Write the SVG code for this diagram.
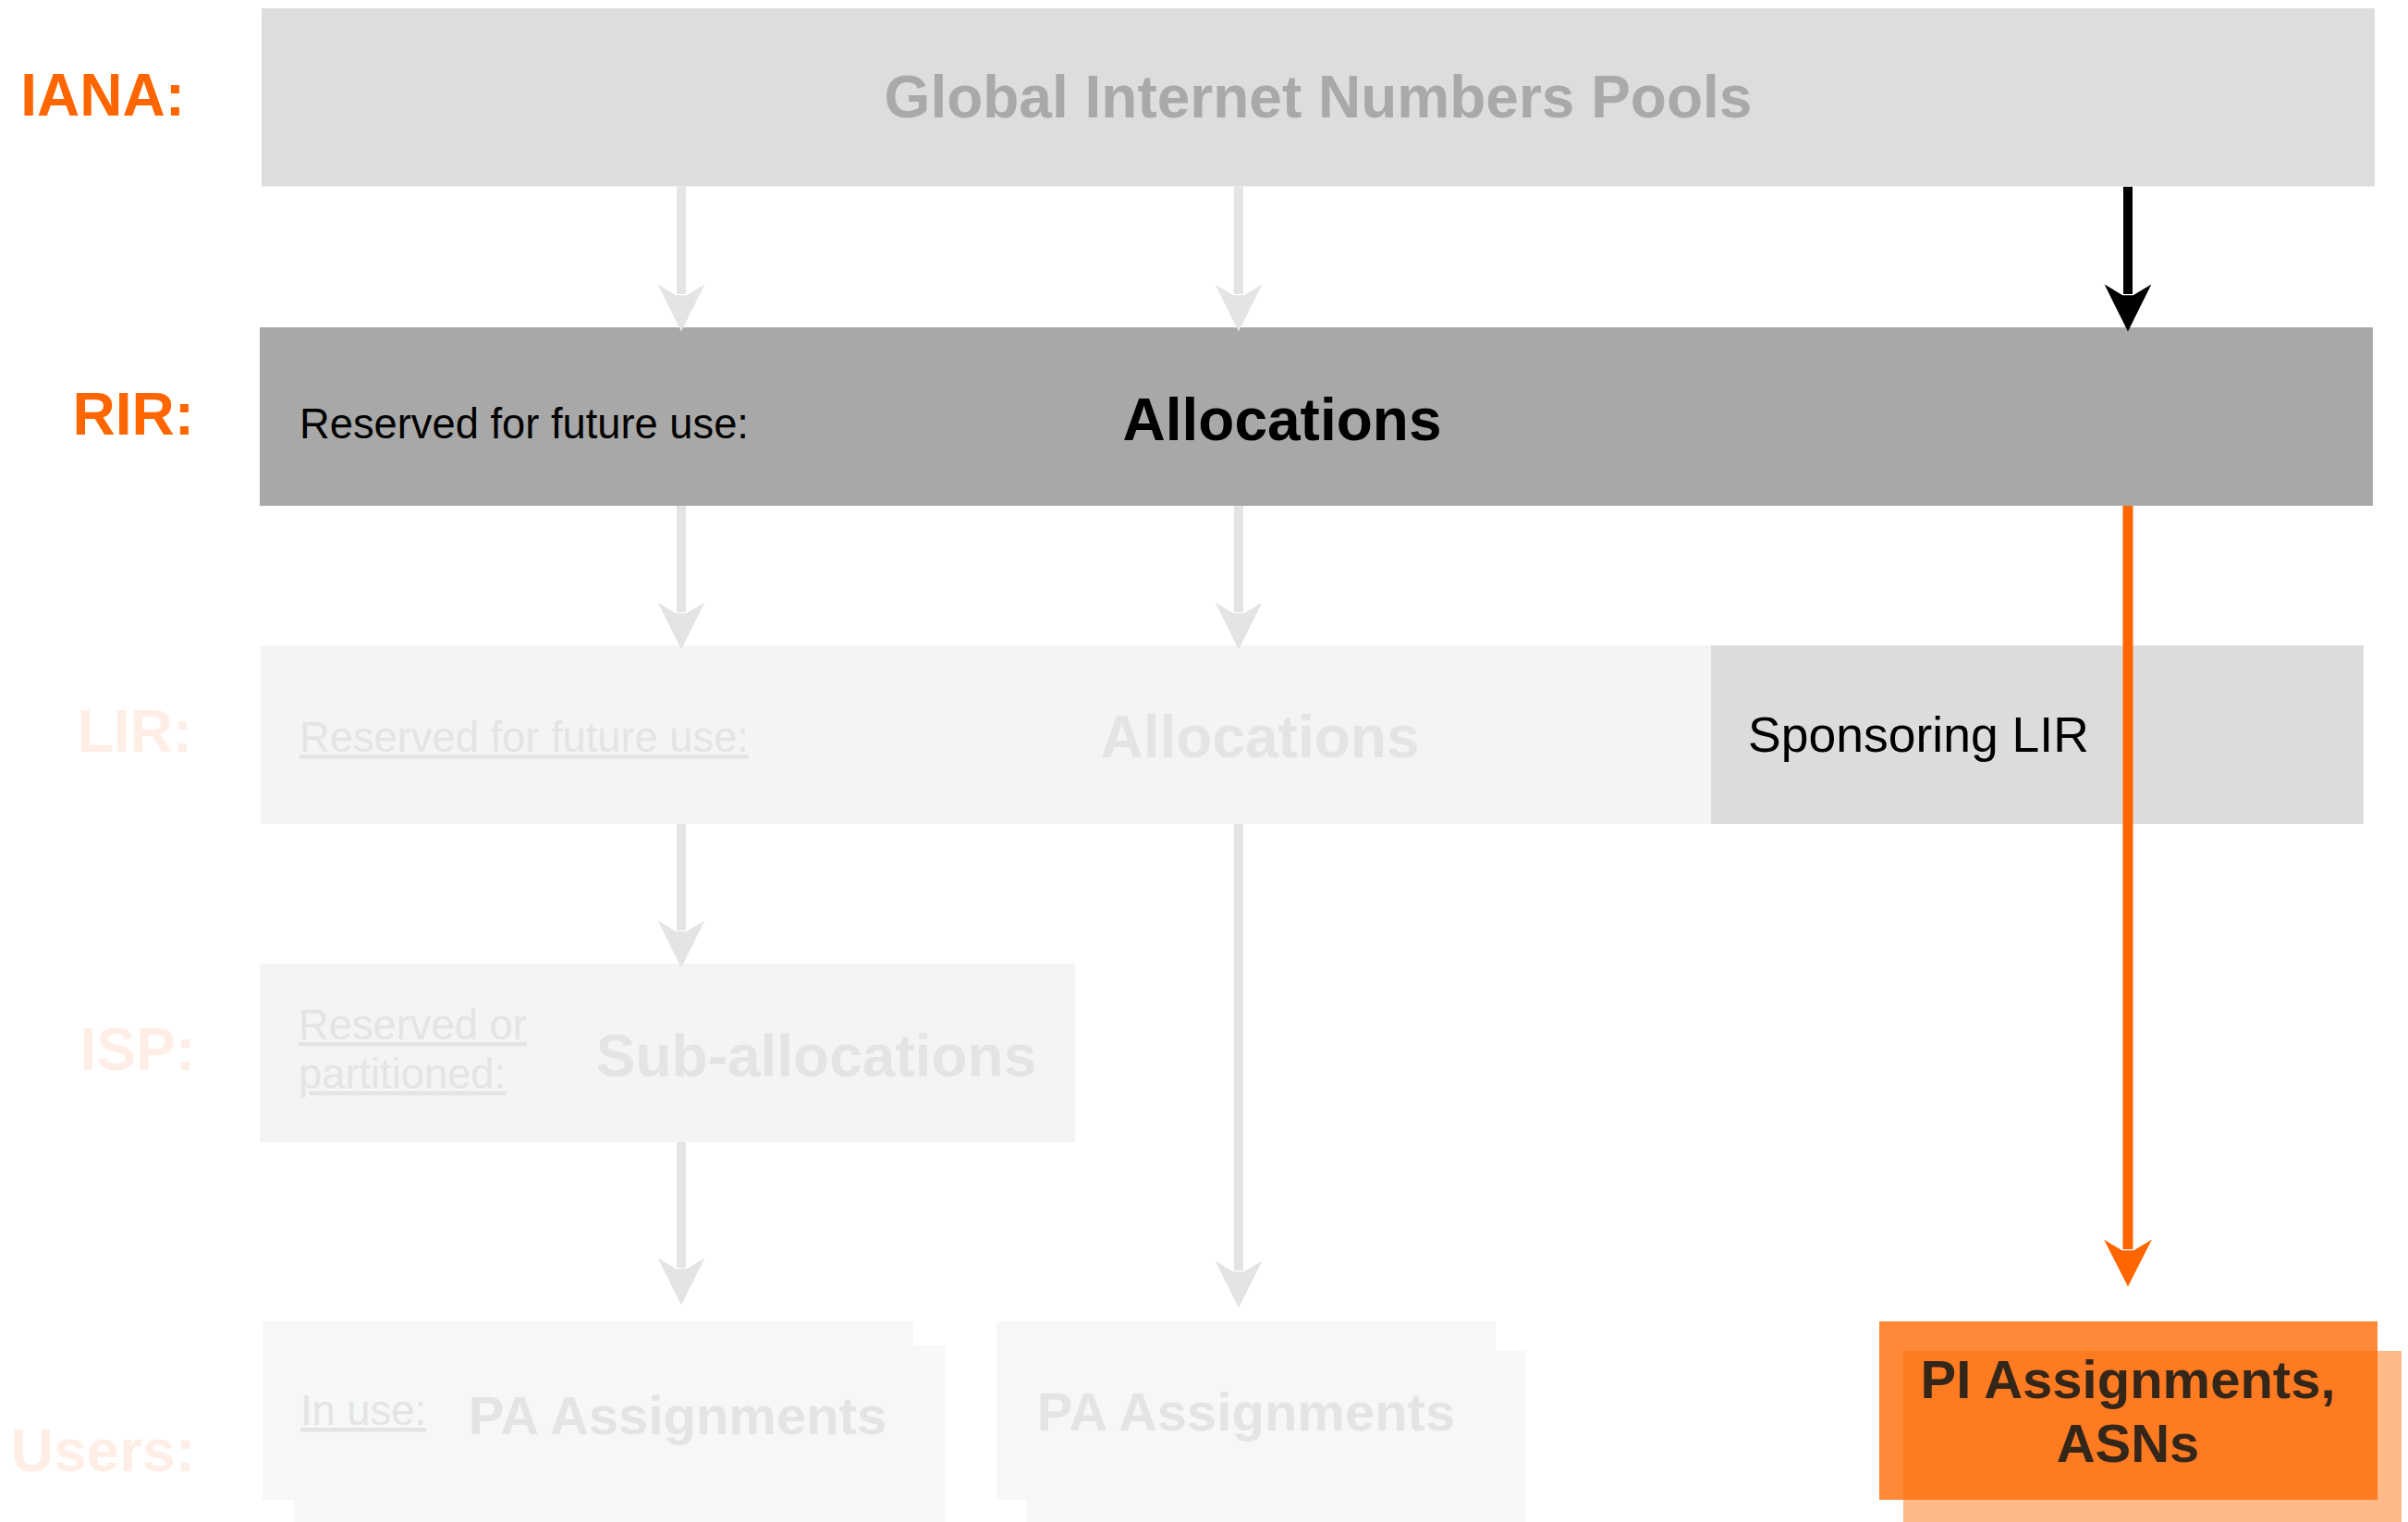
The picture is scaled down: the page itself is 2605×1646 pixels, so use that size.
<svg xmlns="http://www.w3.org/2000/svg" width="2605" height="1646" viewBox="0 0 2605 1646">
<style>
text{font-family:"Liberation Sans",Arial,Helvetica,sans-serif}
.lbl{font-size:64px;font-weight:bold;text-anchor:end}
.lbl-on{fill:#ff6600}
.lbl-off{fill:#feeee5}
.big{font-size:64px;font-weight:bold;text-anchor:middle}
.small{font-size:45.3px}
.faint{fill:#e4e4e4}
.u{text-decoration:underline}
.pa{font-size:58px;font-weight:bold;text-anchor:middle}
.gray{stroke:#e4e4e4;stroke-width:10;fill:none}
.black{stroke:#000;stroke-width:10;fill:none}
.orange{stroke:#ff6600;stroke-width:11;fill:none}
</style>
<defs>
<marker id="hg" markerUnits="userSpaceOnUse" orient="auto" refX="0" refY="0" markerWidth="60" markerHeight="60" viewBox="-12 -25 52 50" overflow="visible"><path d="M35,0 L-9,-22 L1,-5 L1,5 L-9,22 Z" fill="#e4e4e4"/></marker>
<marker id="hb" markerUnits="userSpaceOnUse" orient="auto" refX="0" refY="0" markerWidth="60" markerHeight="60" viewBox="-12 -25 52 50" overflow="visible"><path d="M35,0 L-9,-22 L1,-5 L1,5 L-9,22 Z" fill="#000"/></marker>
<marker id="ho" markerUnits="userSpaceOnUse" orient="auto" refX="0" refY="0" markerWidth="60" markerHeight="60" viewBox="-12 -25 52 50" overflow="visible"><path d="M35,0 L-9,-22.5 L1,-5.5 L1,5.5 L-9,22.5 Z" fill="#ff6600"/></marker>
</defs>
<rect width="2605" height="1646" fill="#fff"/>

<g id="labels">
<text class="lbl lbl-on" x="200" y="125">IANA:</text>
<text class="lbl lbl-on" x="210" y="470">RIR:</text>
<text class="lbl lbl-off" x="208" y="813">LIR:</text>
<text class="lbl lbl-off" x="211" y="1157">ISP:</text>
<text class="lbl lbl-off" x="211" y="1591">Users:</text>
</g>

<g id="iana">
<rect x="283" y="9" width="2286" height="192.5" fill="#dcdddf"/>
<text class="big" x="1426" y="127" fill="#a8a9a9">Global Internet Numbers Pools</text>
</g>

<g id="rir">
<rect x="281" y="354" width="2286" height="193" fill="#a7a8a7"/>
<text class="small" x="324" y="474" fill="#000">Reserved for future use:</text>
<text class="big" x="1387" y="476" fill="#000">Allocations</text>
</g>

<g id="lir">
<rect x="282" y="698" width="1575" height="193" fill="#f4f4f4"/>
<text class="small faint u" x="324" y="813">Reserved for future use:</text>
<text class="big faint" x="1363" y="819">Allocations</text>
</g>

<g id="sponsoring-lir">
<rect x="1851" y="698" width="706" height="193" fill="#dbdcdc"/>
<text x="1891" y="813" font-size="53.5" fill="#000">Sponsoring LIR</text>
</g>

<g id="isp">
<rect x="281" y="1042" width="882" height="193" fill="#f4f4f4"/>
<text class="small faint u" x="323" y="1124">Reserved or</text>
<text class="small faint u" x="323" y="1177">partitioned:</text>
<text class="big faint" x="883" y="1164">Sub-allocations</text>
</g>

<g id="users-pa-1">
<rect x="318" y="1455" width="704" height="191" fill="#f8f8f8"/>
<rect x="284" y="1429" width="704" height="193" fill="#f5f6f6" fill-opacity="0.9"/>
<text class="small faint u" x="325" y="1541">In use:</text>
<text class="pa faint" x="733" y="1551">PA Assignments</text>
</g>

<g id="users-pa-2">
<rect x="1110" y="1461" width="541" height="185" fill="#f8f8f8"/>
<rect x="1078" y="1429" width="540" height="193" fill="#f5f6f6" fill-opacity="0.9"/>
<text class="pa faint" x="1348" y="1547">PA Assignments</text>
</g>

<g id="users-pi">
<rect x="2059" y="1461" width="539" height="185" fill="#ffb887"/>
<rect x="2033" y="1429" width="539" height="193" fill="#ff6c08" fill-opacity="0.8"/>
<text class="pa" x="2302" y="1512" fill="#35261a">PI Assignments,</text>
<text class="pa" x="2302" y="1581" fill="#35261a">ASNs</text>
</g>

<g id="connectors">
<line class="gray" x1="737" y1="202" x2="737" y2="318" marker-end="url(#hg)"/>
<line class="gray" x1="1340" y1="202" x2="1340" y2="318" marker-end="url(#hg)"/>
<line class="gray" x1="737" y1="547" x2="737" y2="662" marker-end="url(#hg)"/>
<line class="gray" x1="1340" y1="547" x2="1340" y2="662" marker-end="url(#hg)"/>
<line class="gray" x1="737" y1="891" x2="737" y2="1006" marker-end="url(#hg)"/>
<line class="gray" x1="737" y1="1235" x2="737" y2="1371" marker-end="url(#hg)"/>
<line class="gray" x1="1340" y1="891" x2="1340" y2="1374" marker-end="url(#hg)"/>
<line class="black" x1="2302" y1="202" x2="2302" y2="318" marker-end="url(#hb)"/>
<line class="orange" x1="2302" y1="547" x2="2302" y2="1351" marker-end="url(#ho)"/>
</g>
</svg>
